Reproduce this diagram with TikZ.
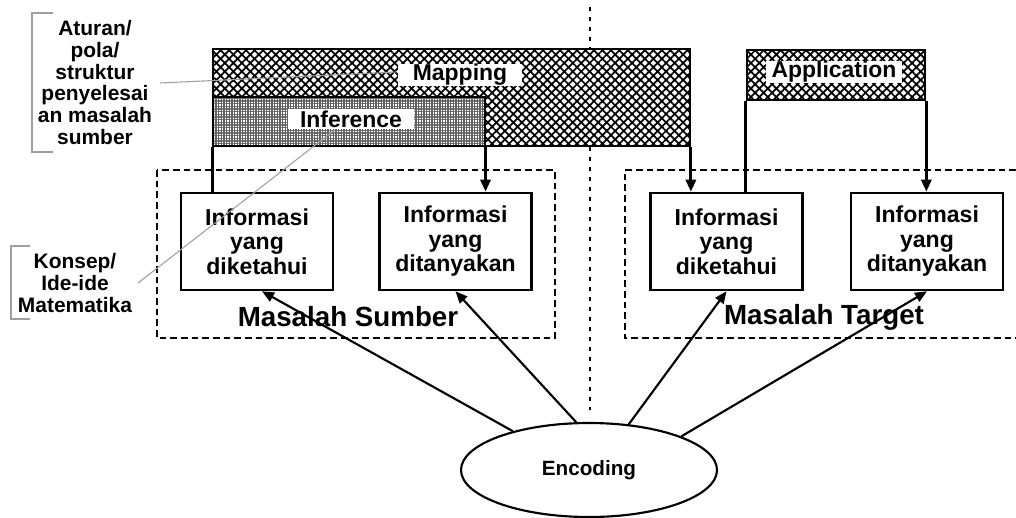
\documentclass[tikz,border=0pt]{standalone}
\usepackage{fontspec}
\setmainfont{Liberation Sans}
\usetikzlibrary{shapes.geometric,patterns.meta,arrows.meta}
\begin{document}
\begin{tikzpicture}[x=0.75pt,y=-0.75pt,
  box/.style={draw,line width=1.9pt,minimum width=114pt,minimum height=72.75pt,
    align=center,inner sep=0pt,font=\fontsize{17.3}{18.4}\selectfont\bfseries},
  mapbox/.style={draw,line width=2pt,inner sep=0pt,
    preaction={fill=white},pattern={Hatch[angle=45,distance=4.5pt,line width=1.3pt]}},
  infbox/.style={draw,line width=2pt,inner sep=0pt,
    preaction={fill=white},pattern={Hatch[angle=0,distance=2pt,line width=0.8pt]},pattern color=gray!75!black},
  lbl/.style={fill=white,inner ysep=0.5pt,font=\fontsize{17.2}{18}\selectfont\bfseries},
  ann/.style={align=center,inner sep=0pt,font=\fontsize{15.7}{16.4}\selectfont\bfseries},
  mas/.style={inner sep=0pt,font=\fontsize{20.8}{22}\selectfont\bfseries},
  grp/.style={line width=1.8pt,dash pattern=on 5pt off 3pt},
  sep/.style={line width=2pt,dash pattern=on 3pt off 4.5pt},
  thin/.style={draw=gray!75,line width=0.8pt},
  vline/.style={line width=2.2pt},
  arr/.style={line width=1.6pt,-{Triangle[length=9pt,width=7.5pt]}}
]
\useasboundingbox (0,0) rectangle (1016,517);
% separator
\coordinate (st) at (590,7);
\coordinate (sb) at (590,410);
\draw[sep] (st) -- (sb);
% group frames
\draw[grp] (157,170) rectangle (555,338);
\draw[grp] (1016,170) -- (625,170) -- (625,338) -- (1016,338);
% top boxes
\node[mapbox,minimum width=357.75pt,minimum height=72.75pt] (map) at (451.5,97.5) {};
\node[infbox,minimum width=204pt,minimum height=36.75pt] (inf) at (349,121.5) {};
\node[mapbox,minimum width=133.5pt,minimum height=37.5pt] (app) at (836,75) {};
% information boxes
\node[box] (sb1) at (257,241.5) {Informasi\\yang\\diketahui};
\node[box] (sb2) at (455.5,241.5) {Informasi\\yang\\ditanyakan};
\node[box] (tb1) at (726.5,241.5) {Informasi\\yang\\diketahui};
\node[box] (tb2) at (927,241.5) {Informasi\\yang\\ditanyakan};
% vertical connectors
\draw[vline] (map.south west) -- (map.south west |- sb1.north);
\draw[vline,arr,line width=2.2pt] (inf.south east) -- (inf.south east |- sb2.north);
\draw[vline,arr,line width=2.2pt] (map.south east) -- (map.south east |- tb1.north);
\draw[vline] (app.south west) -- (app.south west |- tb1.north);
\draw[vline,arr,line width=2.2pt] (app.south east) -- (app.south east |- tb2.north);
% group labels
\node[mas] (ms) at (348,317) {Masalah Sumber};
\node[mas] (mt) at (824,317) {Masalah Target};
% annotation 1 line
\coordinate (a1) at (160,83);
\draw[thin] (a1) -- (396,72);
% labels in top boxes
\node[lbl,inner xsep=11.5pt] (maplbl) at (460,75) {Mapping};
\node[lbl,inner xsep=9pt,inner ysep=1.5pt] (inflbl) at (351,119) {Inference};
\node[lbl,inner xsep=4pt] (applbl) at (834,72) {Application};
% encoding
\node[ellipse,draw,line width=1.6pt,minimum width=192pt,minimum height=70.5pt,inner sep=0pt,
  font=\fontsize{15.5}{16}\selectfont\bfseries] (enc) at (589,470) {Encoding};
\draw[arr] (enc.153) -- ([xshift=3.75pt]sb1.south);
\draw[arr] (enc.105.5) -- (sb2.south);
\draw[arr] (enc.49.8) -- (tb1.south);
\draw[arr] (enc.20.5) -- (tb2.south);
% annotations
\node[ann] (ann1) at (95,82.5) {Aturan/\\pola/\\struktur\\penyelesai\\an masalah\\sumber};
\draw[thin] (53,13) -- (32,13) -- (32,152) -- (53,152);
\node[ann] (ann2) at (75,283) {Konsep/\\Ide-ide\\Matematika};
\draw[thin] (30,246) -- (11,246) -- (11,319) -- (30,319);
\coordinate (a2) at (138,283);
\draw[thin] (a2) -- ([xshift=-12pt]inflbl.south);
\end{tikzpicture}
\end{document}
